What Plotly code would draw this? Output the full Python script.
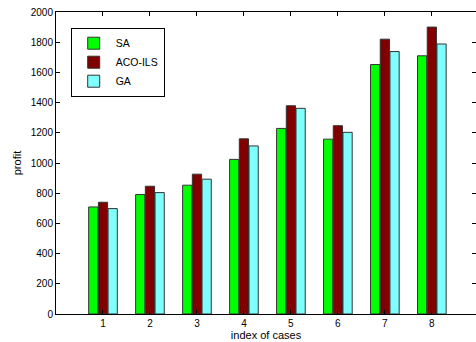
import plotly.graph_objects as go

cases = [1, 2, 3, 4, 5, 6, 7, 8]
sa = [709, 791, 853, 1024, 1229, 1158, 1652, 1710]
aco_ils = [740, 846, 926, 1160, 1379, 1247, 1820, 1900]
ga = [698, 804, 893, 1113, 1362, 1203, 1738, 1788]

series = [("SA", sa, "#00FF00"), ("ACO-ILS", aco_ils, "#800000"), ("GA", ga, "#80FFFF")]

fig = go.Figure()
for name, vals, col in series:
    fig.add_trace(go.Bar(x=cases, y=vals, name=name,
                         marker=dict(color=col, line=dict(color="#333333", width=1))))

font = "Liberation Sans, Arial, Helvetica, sans-serif"
fig.update_layout(
    width=476, height=342,
    margin=dict(l=56, r=0, t=12, b=28, autoexpand=False),
    paper_bgcolor="white", plot_bgcolor="white",
    barmode="group", bargap=0.38, bargroupgap=0.05,
    font=dict(family=font, size=10, color="black"),
    showlegend=True,
    legend=dict(x=0.035, y=0.948, xanchor="left", yanchor="top",
                bordercolor="black", borderwidth=1, bgcolor="white",
                font=dict(size=10.5), tracegroupgap=0, itemwidth=34),
    xaxis=dict(range=[0, 8.94], tickvals=cases, ticktext=[str(c) for c in cases],
               ticks="inside", ticklen=4, tickcolor="black", automargin=False,
               showline=True, linecolor="black", linewidth=1, mirror="ticks",
               showgrid=False, zeroline=False,
               title=dict(text="index of cases", font=dict(size=11), standoff=2)),
    yaxis=dict(range=[0, 2000], tickvals=list(range(0, 2001, 200)),
               ticks="inside", ticklen=4, tickcolor="black", automargin=False,
               showline=True, linecolor="black", linewidth=1, mirror="ticks",
               showgrid=False, zeroline=False,
               title=dict(text="profit", font=dict(size=11), standoff=6)),
)

fig.write_html("out.html", config={"displayModeBar": False},
               post_script="document.body.style.margin='0';document.body.style.overflow='hidden';")
